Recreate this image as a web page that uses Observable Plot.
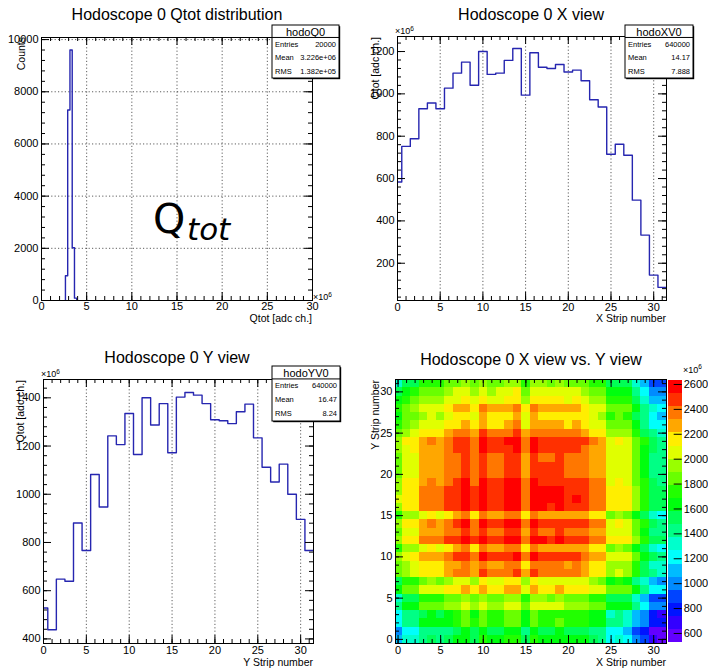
<!DOCTYPE html>
<html><head><meta charset="utf-8">
<script src="https://cdn.jsdelivr.net/npm/d3@7"></script>
<script src="https://cdn.jsdelivr.net/npm/@observablehq/plot@0.6"></script>
<style>
html,body{margin:0;padding:0;background:#fff;}
#root{position:relative;width:708px;height:668px;overflow:hidden;background:#fff;}
#root > div{position:absolute;}
</style>
</head><body><div id="root"></div>
<script>
// ---------------- DATA ----------------
// Panel 1: Qtot distribution (x in units of 10^6 adc ch.)
const qtotBinLow = [2.65, 2.9, 3.15, 3.4, 3.65];
const qtotBinWidth = 0.25;
const qtotCounts = [950, 7300, 9600, 2020, 90];
const qtotStats = {name: "hodoQ0", entries: "20000", mean: "3.226e+06", rms: "1.382e+05"};

// Strip numbers (categories)
const strips = [0,1,2,3,4,5,6,7,8,9,10,11,12,13,14,15,16,17,18,19,20,21,22,23,24,25,26,27,28,29,30,31];
// Panel 2: X view (x10^6)
const xView = [584, 752, 788, 930, 957, 930, 1027, 1098, 1150, 1041, 1200, 1092, 1098, 1158, 1214, 994, 1194, 1126, 1120, 1139, 1103, 1112, 1062, 972, 938, 715, 762, 710, 498, 333, 144, 86];
const xStats = {name: "hodoXV0", entries: "640000", mean: "14.17", rms: "7.888"};
// Panel 3: Y view (x10^6)
const yView = [528, 438, 648, 639, 881, 767, 1082, 947, 1242, 1206, 1335, 1165, 1400, 1287, 1376, 1172, 1403, 1422, 1411, 1376, 1309, 1305, 1293, 1342, 1374, 1234, 1112, 1051, 1125, 1000, 896, 767];
const yStats = {name: "hodoYV0", entries: "640000", mean: "16.47", rms: "8.24"};

// Panel 4: X view vs Y view, heat[yStrip][xStrip] (x10^6)
const heat = [
 [1110,1280,1320,1460,1490,1460,1560,1630,1680,1570,1730,1620,1630,1690,1740,1520,1720,1660,1650,1670,1630,1640,1590,1500,1470,1250,1290,1240,1030,860,670,620],
 [1020,1190,1230,1370,1400,1370,1470,1540,1590,1480,1640,1530,1540,1600,1650,1430,1630,1570,1560,1580,1540,1550,1500,1410,1380,1160,1200,1150,940,770,580,530],
 [1230,1400,1440,1580,1610,1580,1680,1750,1800,1690,1850,1740,1750,1810,1860,1640,1840,1780,1770,1790,1750,1760,1710,1620,1590,1370,1410,1360,1150,980,790,740],
 [1220,1390,1430,1570,1600,1570,1670,1740,1790,1680,1840,1730,1740,1800,1850,1630,1830,1770,1760,1780,1740,1750,1700,1610,1580,1360,1400,1350,1140,970,780,730],
 [1460,1630,1670,1810,1840,1810,1910,1980,2030,1920,2080,1970,1980,2040,2090,1870,2070,2010,2000,2020,1980,1990,1940,1850,1820,1600,1640,1590,1380,1210,1020,970],
 [1350,1520,1560,1700,1730,1700,1800,1870,1920,1810,1970,1860,1870,1930,1980,1760,1960,1900,1890,1910,1870,1880,1830,1740,1710,1490,1530,1480,1270,1100,910,860],
 [1660,1830,1870,2010,2040,2010,2110,2180,2230,2120,2280,2170,2180,2240,2290,2070,2270,2210,2200,2220,2180,2190,2140,2050,2020,1800,1840,1790,1580,1410,1220,1170],
 [1530,1700,1740,1880,1910,1880,1980,2050,2100,1990,2150,2040,2050,2110,2160,1940,2140,2080,2070,2090,2050,2060,2010,1920,1890,1670,1710,1660,1450,1280,1090,1040],
 [1820,1990,2030,2170,2200,2170,2270,2340,2390,2280,2440,2330,2340,2400,2450,2230,2430,2370,2360,2380,2340,2350,2300,2210,2180,1960,2000,1950,1740,1570,1380,1330],
 [1790,1960,2000,2140,2170,2140,2240,2310,2360,2250,2410,2300,2310,2370,2420,2200,2400,2340,2330,2350,2310,2320,2270,2180,2150,1930,1970,1920,1710,1540,1350,1300],
 [1920,2090,2130,2270,2300,2270,2370,2440,2490,2380,2540,2430,2440,2500,2550,2330,2530,2470,2460,2480,2440,2450,2400,2310,2280,2060,2100,2050,1840,1670,1480,1430],
 [1750,1920,1960,2100,2130,2100,2200,2270,2320,2210,2370,2260,2270,2330,2380,2160,2360,2300,2290,2310,2270,2280,2230,2140,2110,1890,1930,1880,1670,1500,1310,1260],
 [1980,2150,2190,2330,2360,2330,2430,2500,2550,2440,2600,2490,2500,2560,2610,2390,2590,2530,2520,2540,2500,2510,2460,2370,2340,2120,2160,2110,1900,1730,1540,1490],
 [1870,2040,2080,2220,2250,2220,2320,2390,2440,2330,2490,2380,2390,2450,2500,2280,2480,2420,2410,2430,2390,2400,2350,2260,2230,2010,2050,2000,1790,1620,1430,1380],
 [1960,2130,2170,2310,2340,2310,2410,2480,2530,2420,2580,2470,2480,2540,2590,2370,2570,2510,2500,2520,2480,2490,2440,2350,2320,2100,2140,2090,1880,1710,1520,1470],
 [1750,1920,1960,2100,2130,2100,2200,2270,2320,2210,2370,2260,2270,2330,2380,2160,2360,2300,2290,2310,2270,2280,2230,2140,2110,1890,1930,1880,1670,1500,1310,1260],
 [1980,2150,2190,2330,2360,2330,2430,2500,2550,2440,2600,2490,2500,2560,2610,2390,2590,2530,2520,2540,2500,2510,2460,2370,2340,2120,2160,2110,1900,1730,1540,1490],
 [2000,2170,2210,2350,2380,2350,2450,2520,2570,2460,2620,2510,2520,2580,2630,2410,2610,2550,2540,2560,2520,2530,2480,2390,2360,2140,2180,2130,1920,1750,1560,1510],
 [1990,2160,2200,2340,2370,2340,2440,2510,2560,2450,2610,2500,2510,2570,2620,2400,2600,2540,2530,2550,2510,2520,2470,2380,2350,2130,2170,2120,1910,1740,1550,1500],
 [1960,2130,2170,2310,2340,2310,2410,2480,2530,2420,2580,2470,2480,2540,2590,2370,2570,2510,2500,2520,2480,2490,2440,2350,2320,2100,2140,2090,1880,1710,1520,1470],
 [1890,2060,2100,2240,2270,2240,2340,2410,2460,2350,2510,2400,2410,2470,2520,2300,2500,2440,2430,2450,2410,2420,2370,2280,2250,2030,2070,2020,1810,1640,1450,1400],
 [1890,2060,2100,2240,2270,2240,2340,2410,2460,2350,2510,2400,2410,2470,2520,2300,2500,2440,2430,2450,2410,2420,2370,2280,2250,2030,2070,2020,1810,1640,1450,1400],
 [1870,2040,2080,2220,2250,2220,2320,2390,2440,2330,2490,2380,2390,2450,2500,2280,2480,2420,2410,2430,2390,2400,2350,2260,2230,2010,2050,2000,1790,1620,1430,1380],
 [1920,2090,2130,2270,2300,2270,2370,2440,2490,2380,2540,2430,2440,2500,2550,2330,2530,2470,2460,2480,2440,2450,2400,2310,2280,2060,2100,2050,1840,1670,1480,1430],
 [1950,2120,2160,2300,2330,2300,2400,2470,2520,2410,2570,2460,2470,2530,2580,2360,2560,2500,2490,2510,2470,2480,2430,2340,2310,2090,2130,2080,1870,1700,1510,1460],
 [1810,1980,2020,2160,2190,2160,2260,2330,2380,2270,2430,2320,2330,2390,2440,2220,2420,2360,2350,2370,2330,2340,2290,2200,2170,1950,1990,1940,1730,1560,1370,1320],
 [1690,1860,1900,2040,2070,2040,2140,2210,2260,2150,2310,2200,2210,2270,2320,2100,2300,2240,2230,2250,2210,2220,2170,2080,2050,1830,1870,1820,1610,1440,1250,1200],
 [1630,1800,1840,1980,2010,1980,2080,2150,2200,2090,2250,2140,2150,2210,2260,2040,2240,2180,2170,2190,2150,2160,2110,2020,1990,1770,1810,1760,1550,1380,1190,1140],
 [1710,1880,1920,2060,2090,2060,2160,2230,2280,2170,2330,2220,2230,2290,2340,2120,2320,2260,2250,2270,2230,2240,2190,2100,2070,1850,1890,1840,1630,1460,1270,1220],
 [1580,1750,1790,1930,1960,1930,2030,2100,2150,2040,2200,2090,2100,2160,2210,1990,2190,2130,2120,2140,2100,2110,2060,1970,1940,1720,1760,1710,1500,1330,1140,1090],
 [1480,1650,1690,1830,1860,1830,1930,2000,2050,1940,2100,1990,2000,2060,2110,1890,2090,2030,2020,2040,2000,2010,1960,1870,1840,1620,1660,1610,1400,1230,1040,990],
 [1350,1520,1560,1700,1730,1700,1800,1870,1920,1810,1970,1860,1870,1930,1980,1760,1960,1900,1890,1910,1870,1880,1830,1740,1710,1490,1530,1480,1270,1100,910,860]
];
const zMin = 525, zMax = 2632, nLevels = 20;

// Tick labels
const qTicksX = [0,5,10,15,20,25,30];
const qTicksY = [0,2000,4000,6000,8000,10000];
const stripTicks = [0,5,10,15,20,25,30];
const xViewTicksY = [200,400,600,800,1000,1200];
const yViewTicksY = [400,600,800,1000,1200,1400];
const colorTicks = [600,800,1000,1200,1400,1600,1800,2000,2200,2400,2600];

// ---------------- HELPERS ----------------
const FONT = '"Liberation Sans", Arial, Helvetica, sans-serif';
const baseStyle = {background: "transparent", overflow: "visible", fontFamily: FONT, fontSize: "11px", color: "#000"};
const histBlue = "#2626b0";
const dotted = {stroke: "#000", strokeWidth: 0.8, strokeDasharray: "1.2,2.2", strokeOpacity: 0.8};
const root = document.getElementById("root");
function place(el, left, top) {
  const d = document.createElement("div");
  d.style.left = left + "px"; d.style.top = top + "px";
  d.appendChild(el); root.appendChild(d);
}
function steps(lows, width, vals, closeToZero) {
  const pts = [];
  if (closeToZero) pts.push({x: lows[0], y: 0});
  vals.forEach((v, i) => { pts.push({x: lows[i], y: v}); pts.push({x: lows[i] + width, y: v}); });
  if (closeToZero) pts.push({x: lows[lows.length - 1] + width, y: 0});
  return pts;
}
function rangeIn(start, stop, stepv, dom) {
  return d3.range(start, stop + stepv / 2, stepv).filter(v => v >= dom[0] - 1e-9 && v <= dom[1] + 1e-9);
}
function frameTicks(fw, fh, xMaj, xMin, yMaj, yMin, maj = 8, mn = 4) {
  const o = {stroke: "#000", strokeWidth: 1};
  return [
    Plot.ruleX(xMin, {x: d => d, insetTop: fh - mn, ...o}),
    Plot.ruleX(xMaj, {x: d => d, insetTop: fh - maj, ...o}),
    Plot.ruleX(xMin, {x: d => d, insetBottom: fh - mn, ...o}),
    Plot.ruleX(xMaj, {x: d => d, insetBottom: fh - maj, ...o}),
    Plot.ruleY(yMin, {y: d => d, insetRight: fw - mn, ...o}),
    Plot.ruleY(yMaj, {y: d => d, insetRight: fw - maj, ...o}),
    Plot.ruleY(yMin, {y: d => d, insetLeft: fw - mn, ...o}),
    Plot.ruleY(yMaj, {y: d => d, insetLeft: fw - maj, ...o})
  ];
}
const fmt = d3.format("d");

// ---------------- PANEL 1: Qtot distribution ----------------
{
  const W = 354, H = 334, ml = 41, mr = 42, mt = 37, mb = 34, fw = W - ml - mr, fh = H - mt - mb;
  const xDom = [0, 30], yDom = [0, 10080];
  const pts = steps(qtotBinLow, qtotBinWidth, qtotCounts, true);
  place(Plot.plot({
    width: W, height: H, marginLeft: ml, marginRight: mr, marginTop: mt, marginBottom: mb,
    x: {domain: xDom, label: null}, y: {domain: yDom, label: null}, style: baseStyle,
    marks: [
      Plot.ruleX(qTicksX.filter(v => v > xDom[0] && v < xDom[1]), {x: d => d, ...dotted}),
      Plot.ruleY(qTicksY.filter(v => v > yDom[0] && v < yDom[1]), {y: d => d, ...dotted}),
      Plot.line(pts, {x: "x", y: "y", stroke: histBlue, strokeWidth: 1.4, clip: true}),
      ...frameTicks(fw, fh, qTicksX, rangeIn(0, 30, 1, xDom), qTicksY, rangeIn(0, 10000, 400, yDom)),
      Plot.frame({stroke: "#000"}),
      Plot.axisX({ticks: qTicksX, tickSize: 0, tickPadding: 2, tickFormat: fmt, fontSize: 11}),
      Plot.axisY({ticks: qTicksY, tickSize: 0, tickPadding: 3, tickFormat: fmt, fontSize: 11})
    ]
  }), 0, 0);
}

// ---------------- PANEL 2: X view ----------------
function viewPanel(vals, ticksY, yDom, left, top, ml, mr, mt, mb) {
  const W = 354, H = 334, fw = W - ml - mr, fh = H - mt - mb;
  const xDom = [0, 31.5];
  const pts = steps(strips.map(s => s - 0.5), 1, vals, false);
  place(Plot.plot({
    width: W, height: H, marginLeft: ml, marginRight: mr, marginTop: mt, marginBottom: mb,
    x: {domain: xDom, label: null}, y: {domain: yDom, label: null}, style: baseStyle,
    marks: [
      Plot.ruleX(stripTicks.filter(v => v > xDom[0] && v < xDom[1]), {x: d => d, ...dotted}),
      Plot.line(pts, {x: "x", y: "y", stroke: histBlue, strokeWidth: 1.4, clip: true}),
      ...frameTicks(fw, fh, stripTicks, rangeIn(0, 31, 1, xDom), ticksY, rangeIn(0, 1600, 40, yDom)),
      Plot.frame({stroke: "#000"}),
      Plot.axisX({ticks: stripTicks, tickSize: 0, tickPadding: 3, tickFormat: fmt, fontSize: 11}),
      Plot.axisY({ticks: ticksY, tickSize: 0, tickPadding: 3, tickFormat: fmt, fontSize: 11})
    ]
  }), left, top);
}
viewPanel(xView, xViewTicksY, [24, 1271], 354, 0, 43, 42, 36, 34);
// ---------------- PANEL 3: Y view ----------------
viewPanel(yView, yViewTicksY, [381, 1476], 0, 334, 43, 41, 45, 25);

// ---------------- PANEL 4: heat map ----------------
const stepZ = (zMax - zMin) / nLevels;
const thresholds = d3.range(1, nLevels).map(k => zMin + k * stepZ);
const palette = d3.range(nLevels).map(k => {
  const idx = Math.floor((k + 0.99) * 50 / nLevels);
  return d3.hsl(280 - (idx + 1) * 5.6, 1, 0.5).formatHex();
});
const colorScale = {type: "threshold", domain: thresholds, range: palette};
{
  const W = 354, H = 334, ml = 41, mr = 42, mt = 45, mb = 25, fw = W - ml - mr, fh = H - mt - mb;
  const xDom = [-0.3, 31.5], yDom = [-0.5, 31.5];
  const cells = [];
  heat.forEach((row, j) => row.forEach((v, i) => cells.push({x: strips[i], y: strips[j], v})));
  place(Plot.plot({
    width: W, height: H, marginLeft: ml, marginRight: mr, marginTop: mt, marginBottom: mb,
    x: {domain: xDom, label: null}, y: {domain: yDom, label: null}, color: colorScale, style: baseStyle,
    marks: [
      Plot.rect(cells, {x1: d => d.x - 0.5, x2: d => d.x + 0.5, y1: d => d.y - 0.5, y2: d => d.y + 0.5,
        fill: "v", clip: true, shapeRendering: "crispEdges"}),
      ...frameTicks(fw, fh, stripTicks, rangeIn(0, 31, 1, xDom), stripTicks, rangeIn(0, 31, 1, yDom)),
      Plot.frame({stroke: "#000"}),
      Plot.axisX({ticks: stripTicks, tickSize: 0, tickPadding: 3, tickFormat: fmt, fontSize: 11}),
      Plot.axisY({ticks: stripTicks, tickSize: 0, tickPadding: 3, tickFormat: fmt, fontSize: 11})
    ]
  }), 354, 334);
}
// colour bar
{
  const W = 48, H = 334, ml = 7.7, mr = 26.3, mt = 46, mb = 25.7, fw = W - ml - mr;
  const levels = d3.range(nLevels).map(k => ({lo: zMin + k * stepZ, hi: zMin + (k + 1) * stepZ}));
  place(Plot.plot({
    width: W, height: H, marginLeft: ml, marginRight: mr, marginTop: mt, marginBottom: mb,
    x: {domain: [0, 1], axis: null}, y: {domain: [zMin, zMax], label: null}, color: colorScale, style: baseStyle,
    marks: [
      Plot.rect(levels, {x1: 0, x2: 1, y1: "lo", y2: "hi", fill: d => (d.lo + d.hi) / 2, shapeRendering: "crispEdges"}),
      Plot.ruleY(colorTicks, {y: d => d, insetLeft: fw - 8, stroke: "#000", strokeWidth: 1}),
      Plot.axisY({anchor: "right", ticks: colorTicks, tickSize: 0, tickPadding: 1.5, tickFormat: fmt, fontSize: 11})
    ]
  }), 660, 334);
}

// ---------------- OVERLAY: titles, labels, stats ----------------
const svg = d3.select(root).append("svg")
  .attr("width", 708).attr("height", 668)
  .style("position", "absolute").style("left", "0px").style("top", "0px")
  .style("font-family", FONT).style("pointer-events", "none");
function txt(x, y, s, {size = 11, anchor = "start", rotate = 0, family = FONT, style = "normal"} = {}) {
  return svg.append("text")
    .attr("transform", `translate(${x},${y})` + (rotate ? ` rotate(${rotate})` : ""))
    .attr("text-anchor", anchor).attr("dominant-baseline", "central")
    .attr("font-size", size).attr("font-family", family).attr("font-style", style)
    .attr("fill", "#000").text(s);
}
function expo(x, y) {
  const t = svg.append("text").attr("x", x).attr("y", y).attr("dominant-baseline", "central")
    .attr("font-size", 9).attr("fill", "#000");
  t.append("tspan").text("\u00d710");
  t.append("tspan").attr("dy", -3.5).attr("font-size", 6.5).text("6");
}
// titles
txt(177, 14.5, "Hodoscope 0 Qtot distribution", {size: 16, anchor: "middle"});
txt(531, 14.5, "Hodoscope 0 X view", {size: 16, anchor: "middle"});
txt(177, 357, "Hodoscope 0 Y view", {size: 16, anchor: "middle"});
txt(531, 359, "Hodoscope 0 X view vs. Y view", {size: 16, anchor: "middle"});
// axis titles
txt(312, 318, "Qtot [adc ch.]", {size: 10.5, anchor: "end"});
txt(666, 318, "X Strip number", {size: 10.5, anchor: "end"});
txt(313, 661.5, "Y Strip number", {size: 10.5, anchor: "end"});
txt(666, 661.5, "X Strip number", {size: 10.5, anchor: "end"});
txt(21, 37, "Counts", {size: 10.5, anchor: "end", rotate: -90});
txt(375, 37, "Qtot [adc ch.]", {size: 10.5, anchor: "end", rotate: -90});
txt(20, 380, "Qtot [adc ch.]", {size: 10.5, anchor: "end", rotate: -90});
txt(375, 380, "Y Strip number", {size: 10.5, anchor: "end", rotate: -90});
// exponents
expo(313, 297);
expo(395, 31);
expo(41, 374);
expo(683, 369.5);
// Q_tot annotation
svg.append("text").attr("x", 153).attr("y", 233).attr("font-size", 41)
  .attr("font-family", '"DejaVu Sans", sans-serif').attr("fill", "#000").text("Q");
svg.append("text").attr("x", 187).attr("y", 240).attr("font-size", 31)
  .attr("font-family", '"DejaVu Sans", sans-serif').attr("font-style", "italic").attr("fill", "#000").text("tot");
// stats boxes
function statsBox(x, y, w, h, st) {
  const g = svg.append("g");
  g.append("rect").attr("x", x + 1.2).attr("y", y + 1.2).attr("width", w).attr("height", h).attr("fill", "#000");
  g.append("rect").attr("x", x).attr("y", y).attr("width", w).attr("height", h).attr("fill", "#fff").attr("stroke", "#000").attr("stroke-width", 1);
  const head = h * 0.235;
  g.append("line").attr("x1", x).attr("x2", x + w).attr("y1", y + head).attr("y2", y + head).attr("stroke", "#000");
  g.append("text").attr("x", x + w / 2).attr("y", y + head / 2 + 0.5).attr("text-anchor", "middle")
    .attr("dominant-baseline", "central").attr("font-size", 11).text(st.name);
  const rows = [["Entries", st.entries], ["Mean", st.mean], ["RMS", st.rms]];
  const rh = (h - head) / 3;
  rows.forEach(([k, v], i) => {
    const cy = y + head + rh * (i + 0.5);
    g.append("text").attr("x", x + 3).attr("y", cy).attr("dominant-baseline", "central").attr("font-size", 7.5).text(k);
    g.append("text").attr("x", x + w - 3).attr("y", cy).attr("text-anchor", "end").attr("dominant-baseline", "central").attr("font-size", 7.5).text(v);
  });
}
statsBox(272, 25, 67, 53, qtotStats);
statsBox(625, 25, 68, 53, xStats);
statsBox(272, 366, 68, 55, yStats);
</script>
</body></html>
